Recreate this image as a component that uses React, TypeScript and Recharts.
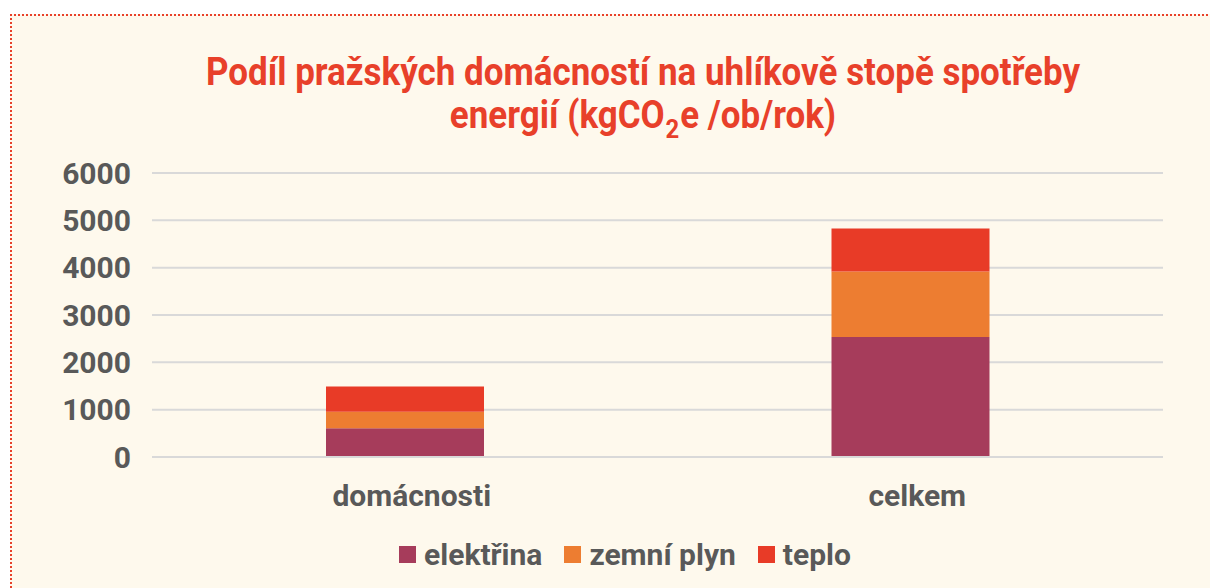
import React from "react";
import { BarChart, Bar, XAxis, YAxis, CartesianGrid, Legend } from "recharts";

// categories and series (kgCO2e / ob / rok)
const categories = ["domácnosti", "celkem"];
const elektrina = [610, 2535];
const zemniPlyn = [345, 1385];
const teplo = [535, 906];
const yTicks = [0, 1000, 2000, 3000, 4000, 5000, 6000];

const series = [
  { key: "elektrina", label: "elektřina", color: "#a63c5b" },
  { key: "zemniPlyn", label: "zemní plyn", color: "#ed7d31" },
  { key: "teplo", label: "teplo", color: "#e83b27" },
];

const data = categories.map((name, i) => ({
  name,
  elektrina: elektrina[i],
  zemniPlyn: zemniPlyn[i],
  teplo: teplo[i],
}));

const FONT = "Roboto, 'Noto Sans', sans-serif";
const GREY = "#595959";

const LegendContent = () => (
  <div
    style={{
      display: "flex",
      justifyContent: "center",
      alignItems: "center",
      fontFamily: FONT,
      paddingLeft: 28,
    }}
  >
    {series.map((s, i) => (
      <div
        key={s.key}
        style={{ display: "flex", alignItems: "center", marginRight: i < series.length - 1 ? 22 : 0 }}
      >
        <span style={{ width: 17, height: 17, background: s.color, display: "inline-block", marginRight: 8 }} />
        <span style={{ fontSize: 30, fontWeight: 700, color: GREY }}>{s.label}</span>
      </div>
    ))}
  </div>
);

export default function App() {
  return (
    <div
      style={{
        position: "absolute",
        left: 10,
        top: 14,
        width: 1200,
        height: 580,
        background: "#fef9ed",
        borderTop: "2px dotted #e8402a",
        borderLeft: "2px dotted #e8402a",
        fontFamily: FONT,
      }}
    >
      <div
        style={{
          position: "absolute",
          left: 0,
          top: 35,
          width: 1262,
          textAlign: "center",
          color: "#e8402a",
          fontSize: 38,
          fontWeight: 700,
          lineHeight: "43px",
          transform: "scaleX(0.92)",
          transformOrigin: "631px 0",
        }}
      >
        Podíl pražských domácností na uhlíkově stopě spotřeby
        <br />
        energií (kgCO
        <span style={{ fontSize: 26, position: "relative", top: 10, margin: "0 1px" }}>2</span>e /ob/rok)
      </div>
      <div style={{ position: "absolute", left: 0, top: 0 }}>
        <BarChart
          width={1198}
          height={572}
          data={data}
          margin={{ top: 157, right: 47, left: 0, bottom: 6 }}
          barSize={158}
        >
          <CartesianGrid vertical={false} stroke="#d9d9d9" strokeWidth={2} />
          <XAxis
            dataKey="name"
            axisLine={{ stroke: "#d9d9d9", strokeWidth: 2 }}
            tickLine={false}
            tickMargin={22}
            height={90}
            tick={{ fill: GREY, fontSize: 30, fontWeight: 700, fontFamily: FONT, dx: 7 }}
          />
          <YAxis
            width={140}
            domain={[0, 6000]}
            ticks={yTicks}
            axisLine={false}
            tickLine={false}
            tickMargin={15}
            tick={{ fill: GREY, fontSize: 30, fontWeight: 700, fontFamily: FONT }}
          />
          {series.map((s) => (
            <Bar key={s.key} dataKey={s.key} name={s.label} stackId="a" fill={s.color} isAnimationActive={false} />
          ))}
          <Legend
            verticalAlign="bottom"
            content={<LegendContent />}
            wrapperStyle={{ bottom: 16, left: 0, width: 1198 }}
          />
        </BarChart>
      </div>
    </div>
  );
}
